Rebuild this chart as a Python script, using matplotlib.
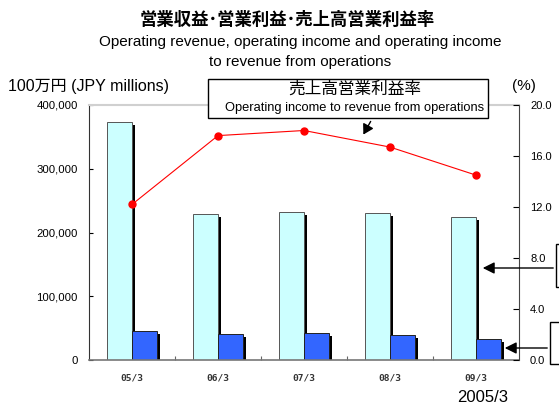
import matplotlib
matplotlib.use("Agg")
import matplotlib.pyplot as plt
import matplotlib.patheffects as pe
from matplotlib.patches import Rectangle, FancyArrowPatch
import numpy as np

plt.rcParams['font.family'] = ['Liberation Sans', 'Noto Sans CJK JP']

categories = ["05/3", "06/3", "07/3", "08/3", "09/3"]
revenue = [373000, 229000, 231500, 230000, 224000]
income = [45500, 40500, 42500, 39000, 33000]
margin = [12.2, 17.6, 18.0, 16.7, 14.5]
left_ticks = [0, 100000, 200000, 300000, 400000]
left_ticklabels = ["0", "100,000", "200,000", "300,000", "400,000"]
right_ticks = [0, 4, 8, 12, 16, 20]
right_ticklabels = ["0.0", "4.0", "8.0", "12.0", "16.0", "20.0"]

W, H = 559, 412
fig = plt.figure(figsize=(W / 100, H / 100), dpi=100)
ax = fig.add_axes([89 / W, 1 - 360 / H, (519 - 89) / W, (360 - 105) / H])

x = np.arange(len(categories))
bw = 25 / 86
shadow = [pe.SimplePatchShadow(offset=(2.2, -2.2), shadow_rgbFace='black', alpha=1.0), pe.Normal()]
ax.bar(x - bw / 2, revenue, width=bw, color='#CCFFFF', edgecolor='#555555', linewidth=0.7,
       path_effects=shadow, zorder=2)
ax.bar(x + bw / 2, income, width=bw, color='#3366FF', edgecolor='#222222', linewidth=0.7,
       path_effects=shadow, zorder=2)

ax.set_xlim(-0.5, len(categories) - 0.5)
ax.set_ylim(0, 400000)
ax.set_yticks(left_ticks)
ax.set_yticklabels(left_ticklabels, fontsize=8.2)
ax.set_xticks(np.arange(len(categories) - 1) + 0.5)
ax.set_xticklabels([])
ax.set_xticks(x, minor=True)
ax.set_xticklabels(categories, minor=True, fontsize=6.8, family='DejaVu Sans Mono',
                   color='#333333', fontweight='bold')
ax.tick_params(axis='x', which='minor', length=0, pad=10)
ax.tick_params(axis='x', which='major', direction='in', length=3, color='#666666')
ax.tick_params(axis='y', direction='in', length=3, pad=8)

ax.spines['left'].set_color('#333333')
ax.spines['bottom'].set_color('#777777')
ax.spines['bottom'].set_linewidth(1.2)
ax.spines['top'].set_color('#D0D0D0')
ax.spines['top'].set_linewidth(1.5)
ax.spines['right'].set_visible(False)

ax2 = ax.twinx()
ax2.set_ylim(0, 20)
ax2.set_yticks(right_ticks)
ax2.set_yticklabels(right_ticklabels, fontsize=8)
ax2.tick_params(axis='y', direction='in', length=4, pad=8)
ax2.spines['right'].set_color('#444444')
for s in ['top', 'left', 'bottom']:
    ax2.spines[s].set_visible(False)
ax2.plot(x, margin, color='#FF0000', linewidth=0.8, marker='o', markersize=5, zorder=3)

# Titles
fig.text(287 / W, 1 - 20 / H, "営業収益･営業利益･売上高営業利益率", ha='center', va='center',
         fontsize=12.5, fontweight='bold', family=['Noto Sans CJK JP'])
fig.text(300 / W, 1 - 42 / H, "Operating revenue, operating income and operating income",
         ha='center', va='center', fontsize=11)
fig.text(300 / W, 1 - 62 / H, "to revenue from operations", ha='center', va='center', fontsize=11)
fig.text(8 / W, 1 - 86 / H, "100万円 (JPY millions)", ha='left', va='center', fontsize=11.5)
fig.text(512 / W, 1 - 86 / H, "(%)", ha='left', va='center', fontsize=11)
fig.text(483 / W, 1 - 398 / H, "2005/3", ha='center', va='center', fontsize=12)

# Callout box
fig.patches.append(Rectangle((208 / W, 1 - 118 / H), (488 - 208) / W, (118 - 79) / H,
                             transform=fig.transFigure, facecolor='white', edgecolor='black',
                             linewidth=1.0, zorder=5))
fig.text(355 / W, 1 - 89 / H, "売上高営業利益率", ha='center', va='center', fontsize=12, zorder=6)
fig.text(355 / W, 1 - 108 / H, "Operating income to revenue from operations", ha='center',
         va='center', fontsize=9.3, zorder=6)
fig.patches.append(FancyArrowPatch((372 / W, 1 - 119 / H), (362 / W, 1 - 137 / H),
                                   transform=fig.transFigure, arrowstyle='-|>,head_length=6,head_width=3.5',
                                   color='black', linewidth=1.0, zorder=6))

# Right-side cut-off boxes with arrows
fig.patches.append(Rectangle((556 / W, 1 - 287 / H), 30 / W, (287 - 244) / H,
                             transform=fig.transFigure, facecolor='white', edgecolor='black',
                             linewidth=1.0, zorder=5))
fig.patches.append(FancyArrowPatch((556 / W, 1 - 268 / H), (480 / W, 1 - 268 / H),
                                   transform=fig.transFigure, arrowstyle='-|>,head_length=7,head_width=3.5',
                                   color='black', linewidth=1.0, zorder=6))
fig.patches.append(Rectangle((550 / W, 1 - 364 / H), 30 / W, (364 - 322) / H,
                             transform=fig.transFigure, facecolor='white', edgecolor='black',
                             linewidth=1.0, zorder=5))
fig.patches.append(FancyArrowPatch((550 / W, 1 - 348 / H), (502 / W, 1 - 348 / H),
                                   transform=fig.transFigure, arrowstyle='-|>,head_length=7,head_width=3.5',
                                   color='black', linewidth=1.0, zorder=6))

fig.savefig("out.png", dpi=100)
